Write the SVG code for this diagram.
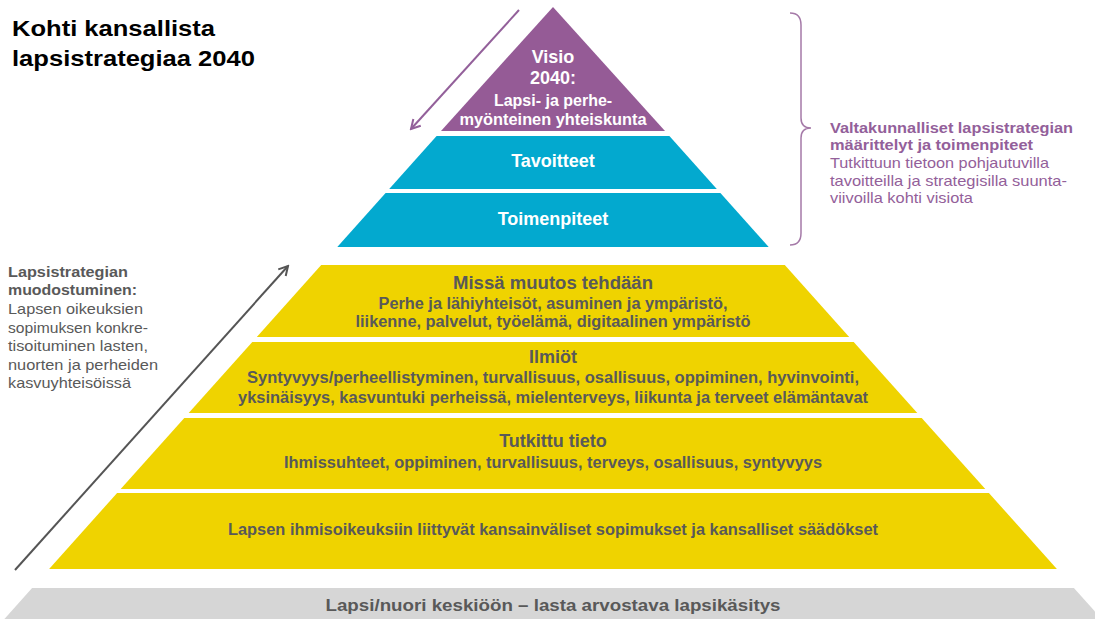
<svg xmlns="http://www.w3.org/2000/svg" width="1095" height="619" viewBox="0 0 1095 619">
<style>
  text { font-family: "Liberation Sans", Arial, sans-serif; }
  .b { font-weight: bold; }
  .w { fill: #ffffff; font-weight: bold; text-anchor: middle; }
  .g { fill: #595959; font-weight: bold; text-anchor: middle; }
  .side { fill: #595959; font-size: 15px; }
  .pur { fill: #93609a; font-size: 14.5px; }
  .yel { fill: #efd300; }
  .teal { fill: #03a9cf; }
</style>
<defs>
  <marker id="arrP" viewBox="0 0 12 12" refX="10" refY="6" markerWidth="12" markerHeight="12" markerUnits="userSpaceOnUse" orient="auto">
    <polyline points="1,1 10,6 1,11" fill="none" stroke="#93609a" stroke-width="2"/>
  </marker>
  <marker id="arrG" viewBox="0 0 12 12" refX="10" refY="6" markerWidth="12" markerHeight="12" markerUnits="userSpaceOnUse" orient="auto">
    <polyline points="1,1 10,6 1,11" fill="none" stroke="#555555" stroke-width="2"/>
  </marker>
</defs>
<rect width="1095" height="619" fill="#ffffff"/>

<g id="title">
  <text x="12" y="36" class="b" font-size="22.5" fill="#000" textLength="203" lengthAdjust="spacingAndGlyphs">Kohti kansallista</text>
  <text x="12" y="66" class="b" font-size="22.5" fill="#000" textLength="243" lengthAdjust="spacingAndGlyphs">lapsistrategiaa 2040</text>
</g>

<g id="visio">
  <polygon points="553,7 665,131 441,131" fill="#955b96"/>
  <text x="553" y="63" class="w" font-size="18">Visio</text>
  <text x="553" y="84" class="w" font-size="18">2040:</text>
  <text x="553" y="106" class="w" font-size="16">Lapsi- ja perhe-</text>
  <text x="553" y="125" class="w" font-size="16" textLength="187" lengthAdjust="spacingAndGlyphs">myönteinen yhteiskunta</text>
</g>

<g id="tavoitteet">
  <polygon class="teal" points="436.6,136 669.4,136 716.8,189 389.2,189"/>
  <text x="553" y="167" class="w" font-size="18">Tavoitteet</text>
</g>

<g id="toimenpiteet">
  <polygon class="teal" points="385.6,193 720.4,193 768.7,247 337.3,247"/>
  <text x="553" y="225" class="w" font-size="18">Toimenpiteet</text>
</g>

<g id="missa">
  <polygon class="yel" points="321.2,265 784.8,265 849.2,337 256.8,337"/>
  <text x="553" y="289" class="g" font-size="18" textLength="200" lengthAdjust="spacingAndGlyphs">Missä muutos tehdään</text>
  <text x="553" y="309" class="g" font-size="16" textLength="349" lengthAdjust="spacingAndGlyphs">Perhe ja lähiyhteisöt, asuminen ja ympäristö,</text>
  <text x="553" y="327" class="g" font-size="16" textLength="395" lengthAdjust="spacingAndGlyphs">liikenne, palvelut, työelämä, digitaalinen ympäristö</text>
</g>

<g id="ilmiot">
  <polygon class="yel" points="252.3,342 853.7,342 917.3,413 188.7,413"/>
  <text x="553" y="363" class="g" font-size="18">Ilmiöt</text>
  <text x="553" y="383" class="g" font-size="16" textLength="612" lengthAdjust="spacingAndGlyphs">Syntyvyys/perheellistyminen, turvallisuus, osallisuus, oppiminen, hyvinvointi,</text>
  <text x="553" y="403" class="g" font-size="16" textLength="630" lengthAdjust="spacingAndGlyphs">yksinäisyys, kasvuntuki perheissä, mielenterveys, liikunta ja terveet elämäntavat</text>
</g>

<g id="tutkittu">
  <polygon class="yel" points="184.3,418 921.7,418 985.3,489 120.7,489"/>
  <text x="553" y="447" class="g" font-size="18">Tutkittu tieto</text>
  <text x="553" y="468" class="g" font-size="16" textLength="538" lengthAdjust="spacingAndGlyphs">Ihmissuhteet, oppiminen, turvallisuus, terveys, osallisuus, syntyvyys</text>
</g>

<g id="lapsen">
  <polygon class="yel" points="117.1,493 988.9,493 1056.9,569 49.1,569"/>
  <text x="553" y="535" class="g" font-size="16" textLength="650" lengthAdjust="spacingAndGlyphs">Lapsen ihmisoikeuksiin liittyvät kansainväliset sopimukset ja kansalliset säädökset</text>
</g>

<g id="perusta">
  <polygon fill="#d6d6d6" points="32.1,588 1073.9,588 1101.6,619 4.4,619"/>
  <text x="553" y="611" class="g" font-size="16.5" textLength="455" lengthAdjust="spacingAndGlyphs">Lapsi/nuori keskiöön – lasta arvostava lapsikäsitys</text>
</g>

<g id="muodostuminen">
  <text x="8" y="277" class="side b" textLength="120" lengthAdjust="spacingAndGlyphs">Lapsistrategian</text>
  <text x="8" y="295" class="side b" textLength="129" lengthAdjust="spacingAndGlyphs">muodostuminen:</text>
  <text x="8" y="314" class="side" textLength="135" lengthAdjust="spacingAndGlyphs">Lapsen oikeuksien</text>
  <text x="8" y="332.5" class="side" textLength="140" lengthAdjust="spacingAndGlyphs">sopimuksen konkre-</text>
  <text x="8" y="351" class="side" textLength="140" lengthAdjust="spacingAndGlyphs">tisoituminen lasten,</text>
  <text x="8" y="369.5" class="side" textLength="150" lengthAdjust="spacingAndGlyphs">nuorten ja perheiden</text>
  <text x="8" y="388" class="side" textLength="123" lengthAdjust="spacingAndGlyphs">kasvuyhteisöissä</text>
</g>

<g id="valtakunnalliset">
  <text x="830" y="133" class="pur b" textLength="243" lengthAdjust="spacingAndGlyphs">Valtakunnalliset lapsistrategian</text>
  <text x="830" y="150" class="pur b" textLength="203" lengthAdjust="spacingAndGlyphs">määrittelyt ja toimenpiteet</text>
  <text x="830" y="168" class="pur" textLength="219" lengthAdjust="spacingAndGlyphs">Tutkittuun tietoon pohjautuvilla</text>
  <text x="830" y="185.5" class="pur" textLength="237" lengthAdjust="spacingAndGlyphs">tavoitteilla ja strategisilla suunta-</text>
  <text x="830" y="203" class="pur" textLength="143" lengthAdjust="spacingAndGlyphs">viivoilla kohti visiota</text>
</g>

<g id="connectors" fill="none">
  <line x1="519" y1="10" x2="411" y2="129" stroke="#93609a" stroke-width="2" marker-end="url(#arrP)"/>
  <line x1="15" y1="570" x2="288" y2="266" stroke="#555555" stroke-width="2" marker-end="url(#arrG)"/>
  <path d="M790,13 Q801,13 801,25 L801,118 Q801,128 811,128 Q801,128 801,138 L801,233 Q801,245 790,245" stroke="#a57aa8" stroke-width="1.5"/>
</g>
</svg>
